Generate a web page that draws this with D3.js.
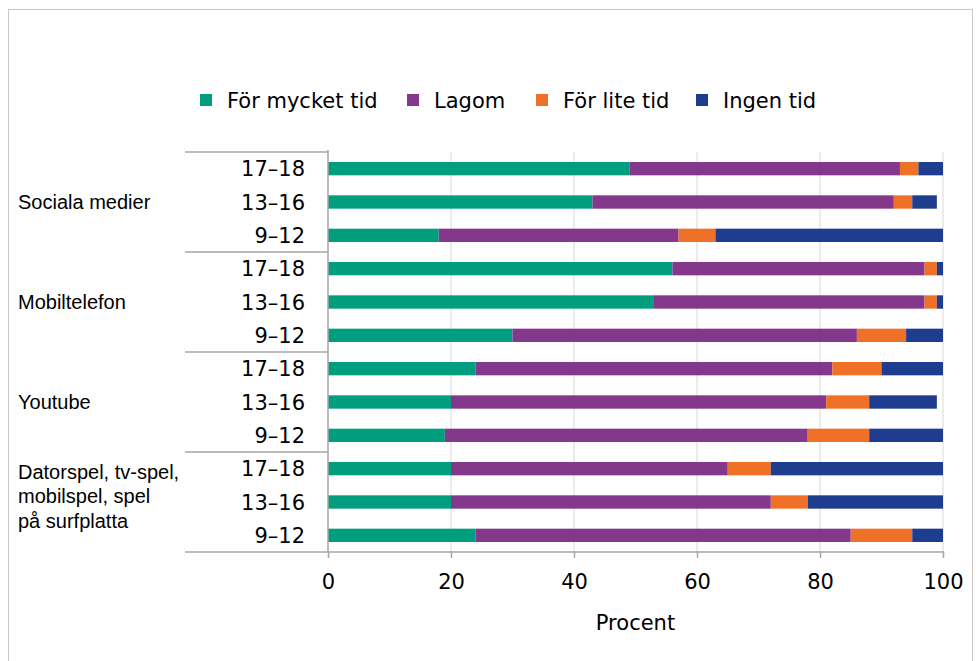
<!DOCTYPE html>
<html>
<head>
<meta charset="utf-8">
<script src="https://cdn.jsdelivr.net/npm/d3@7"></script>
<style>
  html, body { margin: 0; padding: 0; background: #fff; }
  svg { display: block; }
</style>
</head>
<body>
<svg id="chart" width="980" height="661"></svg>
<script>
// Media categories and age groups (top to bottom within each category)
const groups = ["Sociala medier", "Mobiltelefon", "Youtube", "Datorspel, tv-spel, mobilspel, spel på surfplatta"];
const groupLines = [["Sociala medier"], ["Mobiltelefon"], ["Youtube"], ["Datorspel, tv-spel,", "mobilspel, spel", "på surfplatta"]];
const ages = ["17–18", "13–16", "9–12"];

// Series (percent), one value per group × age row
const series = ["För mycket tid", "Lagom", "För lite tid", "Ingen tid"];
const forMycket = [49, 43, 18, 56, 53, 30, 24, 20, 19, 20, 20, 24];
const lagom     = [44, 49, 39, 41, 44, 56, 58, 61, 59, 45, 52, 61];
const forLite   = [ 3,  3,  6,  2,  2,  8,  8,  7, 10,  7,  6, 10];
const ingen     = [ 4,  4, 37,  1,  1,  6, 10, 11, 12, 28, 22,  5];
const xTicks = [0, 20, 40, 60, 80, 100];
const colors = ["#009E7E", "#84388B", "#EF7128", "#1E3D8F"];

const rows = [];
groups.forEach((g, gi) => ages.forEach((a, ai) => {
  const i = gi * ages.length + ai;
  rows.push({ key: g + "|" + a, group: g, age: a,
    "För mycket tid": forMycket[i], "Lagom": lagom[i], "För lite tid": forLite[i], "Ingen tid": ingen[i] });
}));

const svg = d3.select("#chart");
const margin = { left: 328, right: 943, top: 152, bottom: 552 };
const labelLeft = 185;

// Outer frame
svg.append("rect").attr("x", 8.5).attr("y", 9.5).attr("width", 964).attr("height", 660)
  .attr("fill", "none").attr("stroke", "#c8c8c8").attr("stroke-width", 1);

const x = d3.scaleLinear().domain([0, 100]).range([margin.left, margin.right]);
const y = d3.scaleBand().domain(rows.map(r => r.key)).range([margin.top, margin.bottom]).paddingInner(0.6).paddingOuter(0.3);
const color = d3.scaleOrdinal().domain(series).range(colors);

// Vertical gridlines
svg.append("g").selectAll("line").data(xTicks.filter(t => t > 0)).join("line")
  .attr("x1", d => x(d)).attr("x2", d => x(d))
  .attr("y1", margin.top).attr("y2", margin.bottom)
  .attr("stroke", "#d9d9d9").attr("stroke-width", 1);

// Stacked bars
const stacked = d3.stack().keys(series)(rows);
svg.append("g").selectAll("g").data(stacked).join("g")
  .attr("fill", d => color(d.key))
  .selectAll("rect").data(d => d).join("rect")
  .attr("x", d => x(d[0]))
  .attr("width", d => x(d[1]) - x(d[0]))
  .attr("y", d => y(d.data.key))
  .attr("height", y.bandwidth());

// X axis
const xAxis = d3.axisBottom(x).tickValues(xTicks).tickSize(6).tickPadding(16).tickFormat(d3.format("d"));
const gx = svg.append("g").attr("transform", `translate(0,${margin.bottom})`).call(xAxis);
gx.select(".domain").remove();
gx.selectAll(".tick line").attr("stroke", "#a6a6a6").attr("stroke-width", 1.5);
gx.selectAll(".tick text").attr("font-family", "DejaVu Sans").attr("font-size", 21).attr("fill", "#000");
svg.append("line").attr("x1", labelLeft).attr("x2", margin.right + 1)
  .attr("y1", margin.bottom).attr("y2", margin.bottom)
  .attr("stroke", "#a6a6a6").attr("stroke-width", 1.5);

svg.append("text").attr("x", (margin.left + margin.right) / 2).attr("y", 630)
  .attr("text-anchor", "middle").attr("font-family", "DejaVu Sans").attr("font-size", 21)
  .text("Procent");

// Category axis: vertical line, group separators, age labels
svg.append("line").attr("x1", margin.left).attr("x2", margin.left)
  .attr("y1", margin.top - 2).attr("y2", margin.bottom)
  .attr("stroke", "#a6a6a6").attr("stroke-width", 1.5);

const groupBand = d3.scaleBand().domain(groups).range([margin.top, margin.bottom]);
svg.append("g").selectAll("line").data(groups).join("line")
  .attr("x1", labelLeft).attr("x2", margin.left)
  .attr("y1", d => groupBand(d)).attr("y2", d => groupBand(d))
  .attr("stroke", "#a6a6a6").attr("stroke-width", 1.5);

svg.append("g").selectAll("text").data(rows).join("text")
  .attr("x", 305).attr("y", d => y(d.key) + y.bandwidth() / 2)
  .attr("dy", "0.36em").attr("text-anchor", "end")
  .attr("font-family", "DejaVu Sans").attr("font-size", 21)
  .text(d => d.age);

// Group labels
groups.forEach((g, gi) => {
  const lines = groupLines[gi];
  const cy = groupBand(g) + groupBand.bandwidth() / 2 - (lines.length > 1 ? 6 : 0);
  const lh = 24.5;
  const t = svg.append("text").attr("x", 18)
    .attr("font-family", "Liberation Sans, Arial").attr("font-size", 20).attr("fill", "#000");
  lines.forEach((ln, li) => {
    t.append("tspan").attr("x", 18)
      .attr("y", cy + (li - (lines.length - 1) / 2) * lh)
      .attr("dy", "0.35em").text(ln);
  });
});

// Legend
const legendX = [200, 407, 536, 696];
const lg = svg.append("g").selectAll("g").data(series).join("g")
  .attr("transform", (d, i) => `translate(${legendX[i]},100)`);
lg.append("rect").attr("x", 0).attr("y", -6).attr("width", 12).attr("height", 12)
  .attr("fill", d => color(d));
lg.append("text").attr("x", 27).attr("dy", "0.36em")
  .attr("font-family", "DejaVu Sans").attr("font-size", 21)
  .text(d => d);
</script>
</body>
</html>
